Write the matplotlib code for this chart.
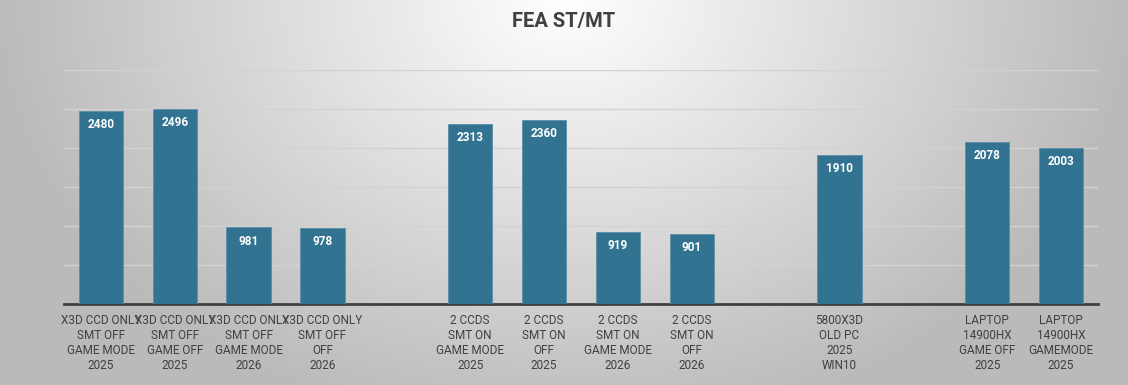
import numpy as np
import matplotlib.pyplot as plt

categories = [
    "X3D CCD ONLY\nSMT OFF\nGAME MODE\n2025",
    "X3D CCD ONLY\nSMT OFF\nGAME OFF\n2025",
    "X3D CCD ONLY\nSMT OFF\nGAME MODE\n2026",
    "X3D CCD ONLY\nSMT OFF\nOFF\n2026",
    "",
    "2 CCDS\nSMT ON\nGAME MODE\n2025",
    "2 CCDS\nSMT ON\nOFF\n2025",
    "2 CCDS\nSMT ON\nGAME MODE\n2026",
    "2 CCDS\nSMT ON\nOFF\n2026",
    "",
    "5800X3D\nOLD PC\n2025\nWIN10",
    "",
    "LAPTOP\n14900HX\nGAME OFF\n2025",
    "LAPTOP\n14900HX\nGAMEMODE\n2025",
]
values = [2480, 2496, 981, 978, None, 2313, 2360, 919, 901, None, 1910, None, 2078, 2003]

plt.rcParams['font.family'] = ['Roboto', 'DejaVu Sans']

fig = plt.figure(figsize=(11.28, 3.85), dpi=100)

# radial grey background, white at top centre
bg = fig.add_axes([0, 0, 1, 1], zorder=-10)
W, H = 1128, 385
yy, xx = np.mgrid[0:H, 0:W]
d = np.sqrt((xx - W / 2) ** 2 + (yy * 1.3) ** 2)
t = np.clip(d / 570, 0, 1)
shade = 1 - 0.27 * t
bg.imshow(np.dstack([shade] * 3), aspect='auto', extent=[0, 1, 0, 1])
bg.axis('off')

ax = fig.add_axes([64 / W, 81 / H, (1098 - 64) / W, (304 - 70) / H])
ax.patch.set_alpha(0)

x = np.arange(len(categories))
heights = [v if v is not None else 0 for v in values]
bars = ax.bar(x, heights, width=0.6, color='#317390', edgecolor='#5b8fa8',
              linewidth=0.6, zorder=3)
for xi, v in zip(x, values):
    if v is None:
        continue
    ax.text(xi, v - 90, str(v), ha='center', va='top', color='white',
            fontsize=8.5, fontweight='bold', zorder=4)

ax.set_xlim(-0.5, len(categories) - 0.5)
ax.set_ylim(0, 3000)
ax.set_yticks(np.arange(500, 3001, 500))
ax.yaxis.grid(True, color='#d2d2d2', linewidth=1, zorder=0)
ax.tick_params(axis='y', left=False, labelleft=False)
ax.set_xticks(x)
ax.set_xticklabels(categories, fontsize=8.5, color='#404040', linespacing=1.2)
ax.tick_params(axis='x', length=0, pad=7)
for s in ['top', 'right', 'left']:
    ax.spines[s].set_visible(False)
ax.spines['bottom'].set_color('#404040')
ax.spines['bottom'].set_linewidth(2)

fig.text(0.5, 1 - 22 / H, "FEA ST/MT", ha='center', va='center',
         fontsize=14.5, fontweight='bold', color='#404040')

fig.savefig('out.png', dpi=100)
